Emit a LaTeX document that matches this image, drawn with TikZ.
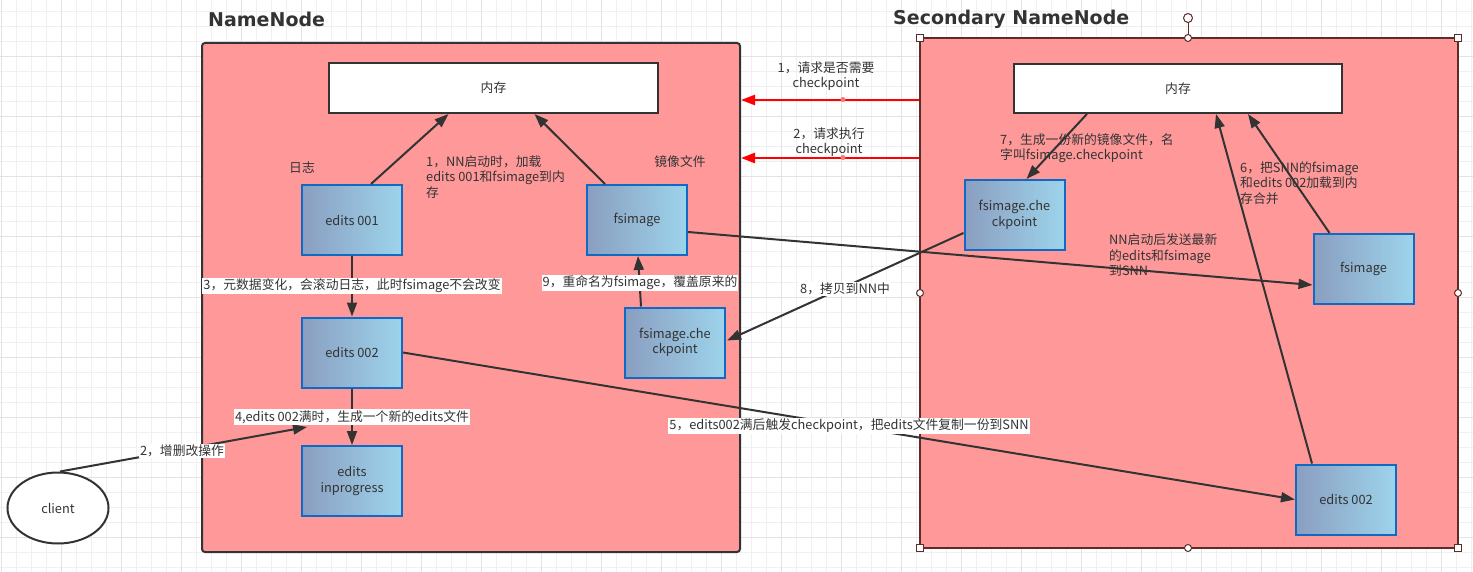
\documentclass[tikz,border=0pt]{standalone}
\usepackage{fontspec}
\setmainfont{Noto Sans CJK SC}
\newfontfamily\titlefont{DejaVu Sans}
\usepackage{tikz}
\usetikzlibrary{calc}
\usetikzlibrary{shapes}
\usetikzlibrary{arrows.meta}

\definecolor{pinkbg}{HTML}{FF9999}
\definecolor{linec}{HTML}{333333}
\definecolor{snnline}{HTML}{5E2B2B}
\definecolor{boxblue}{HTML}{0F6AC6}
\definecolor{gradl}{HTML}{8A9EC0}
\definecolor{gradr}{HTML}{9DD4EB}
\definecolor{gridminor}{HTML}{F0F0F0}
\definecolor{gridmajor}{HTML}{E3E3E3}
\definecolor{reqred}{HTML}{FF0000}

\begin{document}
\begin{tikzpicture}[x=1pt, y=-1pt, font=\fontsize{12.8}{15.5}\selectfont, text=linec,
  >={Triangle[length=14pt,width=10pt]},
  container/.style={draw=linec, line width=2pt, fill=pinkbg, inner sep=0pt},
  membox/.style={draw=linec, line width=2pt, fill=white, minimum width=329pt, minimum height=50pt},
  filebox/.style={draw=boxblue, line width=2pt, left color=gradl, right color=gradr,
    minimum width=100pt, minimum height=70pt, align=center, inner sep=2pt},
  conn/.style={draw=linec, line width=2pt, ->},
  reqline/.style={draw=reqred, line width=2.5pt, ->},
  whitelbl/.style={fill=white, inner sep=1pt},
  note/.style={align=left, inner sep=0pt, anchor=west},
  handle/.style={draw=snnline, fill=white, line width=1pt}]
\useasboundingbox (0,0) rectangle (1473,572);

% grid
\foreach \gx in {1,16,...,1471} \draw[gridminor, line width=1pt] (\gx,0) -- (\gx,572);
\foreach \gy in {12,27,...,572} \draw[gridminor, line width=1pt] (0,\gy) -- (1473,\gy);
\foreach \gx in {1,61,...,1471} \draw[gridmajor, line width=1pt] (\gx,0) -- (\gx,572);
\foreach \gy in {57,117,...,572} \draw[gridmajor, line width=1pt] (0,\gy) -- (1473,\gy);

% the two machines
\node[name=nn, container, rounded corners=3pt, minimum width=538pt, minimum height=509pt] at (471,297.5) {};
\node[name=snn, container, draw=snnline, minimum width=538pt, minimum height=510pt] at (1189,293) {};
\node[name=nntitle, anchor=west, inner sep=0pt, font=\titlefont\bfseries\fontsize{19}{22}\selectfont] at (208,19) {NameNode};
\node[name=snntitle, anchor=west, inner sep=0pt, font=\titlefont\bfseries\fontsize{19}{22}\selectfont] at (893,19) {Secondary NameNode};

% selection handles
\draw[snnline, line width=1pt] (1188,22.5) -- (1188,38);
\draw[handle] (1188,18) circle (4.5pt);
\foreach \hx/\hy in {1188/38, 920/293, 1458/293, 1188/548} \draw[handle] (\hx,\hy) circle (3.5pt);
\foreach \hx/\hy in {920/38, 1458/38, 920/548, 1458/548} \draw[handle] (\hx-3.5,\hy-3.5) rectangle (\hx+3.5,\hy+3.5);

% NameNode side
\node[name=mem1, membox] at (493.5,88) {内存};
\node[name=e001, filebox] at (352,220) {edits 001};
\node[name=fsi1, filebox] at (637,220) {fsimage};
\node[name=e002, filebox] at (352,352.5) {edits 002};
\node[name=ck1, filebox] at (675,342.5) {fsimage.che\\ckpoint};
\node[name=einp, filebox] at (352,481) {edits\\inprogress};
\node[name=client, draw=linec, line width=2pt, fill=white, ellipse, minimum width=101pt, minimum height=71pt] at (58,508) {client};

% Secondary NameNode side
\node[name=mem2, membox, minimum width=328pt, minimum height=49pt] at (1178,88.5) {内存};
\node[name=ck2, filebox] at (1014.5,215) {fsimage.che\\ckpoint};
\node[name=fsi2, filebox] at (1363.5,269) {fsimage};
\node[name=e002b, filebox] at (1346,499.5) {edits 002};

% connectors
\coordinate (c4) at (307,427);
\draw[conn] ($(e001.north)+(19,0)$) -- ($(mem1.south)+(-45,0)$);
\draw[conn] ($(fsi1.north)+(-32,0)$) -- ($(mem1.south)+(41,0)$);
\draw[conn] (e001.south) -- (e002.north);
\draw[conn] (e002.south) -- (einp.north);
\draw[conn] ($(client.north)+(2,0)$) -- (c4);
\draw[conn] ($(ck1.north)+(-34,0)$) -- ($(fsi1.south)+(1,0)$);
\draw[conn] ($(fsi1.east)+(0,12)$) -- ($(fsi2.west)+(0,16)$);
\draw[conn] (e002.east) -- (e002b.west);
\draw[conn] ($(e002b.north)+(-34,0)$) -- ($(mem2.south)+(38,0)$);
\draw[conn] ($(fsi2.north)+(-34,0)$) -- ($(mem2.south)+(70,0)$);
\draw[conn] ($(mem2.south)+(-91,0)$) -- ($(ck2.north)+(12,0)$);
\draw[conn] ($(ck2.west)+(0,18)$) -- ($(ck1.east)+(1,-2)$);
\draw[reqline] ($(snn.west)+(0,-193)$) -- ($(nn.east)+(0,-197.5)$);
\draw[reqline] ($(snn.west)+(0,-135)$) -- ($(nn.east)+(0,-139.5)$);
\fill[red!55!white] (843,99.5) circle (2.5pt);
\fill[red!55!white] (843,157.5) circle (2.5pt);

% labels
\node[name=lrizhi] at (302,168) {日志};
\node[name=ljingxiang] at (680,162) {镜像文件};
\node[name=l1, note] at (426,177) {1，NN启动时，加载\\edits 001和fsimage到内\\存};
\node[name=l3, whitelbl] at (352,286) {3，元数据变化，会滚动日志，此时fsimage不会改变};
\node[name=l4, whitelbl] at (352,417) {4,edits 002满时，生成一个新的edits文件};
\node[name=l2c, whitelbl] at (182,451) {2，增删改操作};
\node[name=l9, whitelbl] at (640,283) {9，重命名为fsimage，覆盖原来的};
\node[name=l5, whitelbl] at (849,426) {5，edits002满后触发checkpoint，把edits文件复制一份到SNN};
\node[name=l8, whitelbl] at (845,289) {8，拷贝到NN中};
\node[name=lsend, note] at (1109,255) {NN启动后发送最新\\的edits和fsimage\\到SNN};
\node[name=l6, note] at (1240,183) {6，把SNN的fsimage\\和edits 002加载到内\\存合并};
\node[name=l7, note] at (1000,148) {7，生成一份新的镜像文件，名\\字叫fsimage.checkpoint};
\node[name=lreq1, align=center, inner sep=0pt] at (826,76) {1，请求是否需要\\checkpoint};
\node[name=lreq2, align=center, inner sep=0pt] at (829,142) {2，请求执行\\checkpoint};
\end{tikzpicture}
\end{document}
